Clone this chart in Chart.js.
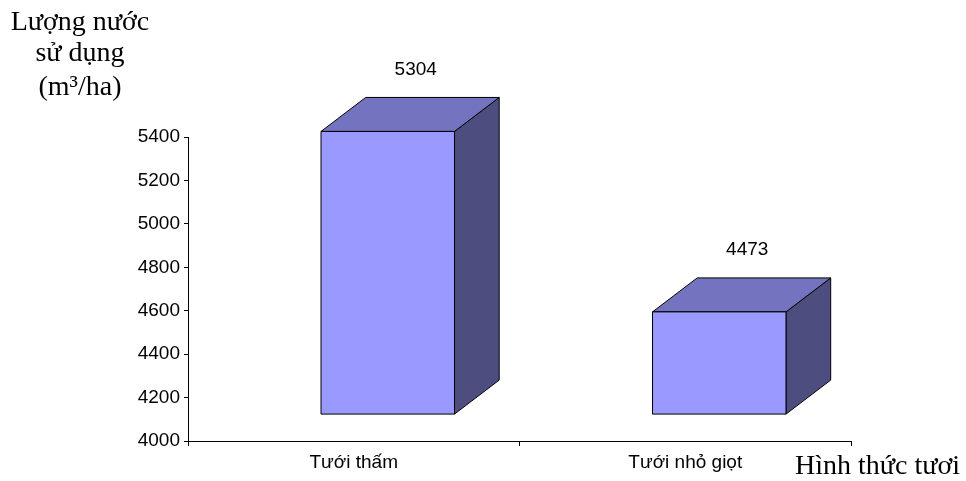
<!DOCTYPE html>
<html>
<head>
<meta charset="utf-8">
<script src="https://cdn.jsdelivr.net/npm/chart.js@4"></script>
<style>
  html, body { margin: 0; padding: 0; background: #fff; }
  #wrap { width: 966px; height: 481px; position: relative; }
</style>
</head>
<body>
<div id="wrap"><canvas id="chart"></canvas></div>
<script>
// datos
const categorias = ['Tưới thấm', 'Tưới nhỏ giọt'];
const luongNuoc  = [5304, 4473];
const yMin = 4000, yMax = 5400, yPaso = 200;
const tituloY = ['Lượng nước', 'sử dụng', '(m³/ha)'];
const tituloX = 'Hình thức tươi';

const SANS  = '"Liberation Sans", Arial, sans-serif';
const SERIF = '"Liberation Serif", "Times New Roman", serif';

// caja 3D estilo Excel
const caja3d = {
  id: 'caja3d',
  afterDatasetsDraw(chart) {
    const ctx = chart.ctx;
    const meta = chart.getDatasetMeta(0);
    const sx = 34, sy = 26.4;      // desplazamiento de la cara frontal
    const dx = 44.7, dy = 34;      // profundidad
    ctx.save();
    ctx.lineWidth = 1;
    ctx.strokeStyle = '#000';
    ctx.lineJoin = 'miter';
    meta.data.forEach((bar, i) => {
      const p = bar.getProps(['x', 'y', 'base', 'width'], true);
      const l = p.x - p.width / 2 + sx, r = p.x + p.width / 2 + sx;
      const t = p.y - sy, b = p.base - sy;
      // lado
      ctx.beginPath();
      ctx.moveTo(r, t); ctx.lineTo(r + dx, t - dy); ctx.lineTo(r + dx, b - dy); ctx.lineTo(r, b);
      ctx.closePath();
      ctx.fillStyle = '#4d4d80'; ctx.fill(); ctx.stroke();
      // tapa
      ctx.beginPath();
      ctx.moveTo(l, t); ctx.lineTo(l + dx, t - dy); ctx.lineTo(r + dx, t - dy); ctx.lineTo(r, t);
      ctx.closePath();
      ctx.fillStyle = '#7373bf'; ctx.fill(); ctx.stroke();
      // frente
      ctx.beginPath();
      ctx.rect(l, t, r - l, b - t);
      ctx.fillStyle = '#9999ff'; ctx.fill(); ctx.stroke();
      // etiqueta
      ctx.fillStyle = '#000';
      ctx.font = '19px ' + SANS;
      ctx.textAlign = 'center';
      ctx.textBaseline = 'middle';
      ctx.fillText(String(luongNuoc[i]), (l + r) / 2 + 28, t - 62);
    });
    ctx.restore();
  },
  afterDraw(chart) {
    const ctx = chart.ctx;
    ctx.save();
    ctx.fillStyle = '#000';
    ctx.font = '28px ' + SERIF;
    ctx.textAlign = 'center';
    ctx.textBaseline = 'alphabetic';
    const bases = [30, 61, 95];
    tituloY.forEach((s, i) => ctx.fillText(s, 80, bases[i]));
    ctx.font = '28px ' + SERIF;
    ctx.textAlign = 'right';
    ctx.fillText(tituloX, 960, 474);
    ctx.restore();
  }
};

new Chart(document.getElementById('chart'), {
  type: 'bar',
  data: {
    labels: categorias,
    datasets: [{
      data: luongNuoc,
      base: yMin,
      backgroundColor: 'rgba(0,0,0,0)',
      borderWidth: 0,
      categoryPercentage: 1,
      barPercentage: 0.4027
    }]
  },
  options: {
    responsive: true,
    maintainAspectRatio: false,
    animation: false,
    layout: { padding: { left: 128, right: 115, top: 137, bottom: 0 } },
    plugins: { legend: { display: false }, tooltip: { enabled: false } },
    scales: {
      x: {
        offset: true,
        afterFit: s => { s.height = 40; },
        border: { display: true, color: '#000', width: 1 },
        grid: { display: true, offset: true, drawOnChartArea: false, drawTicks: true, tickLength: 5, color: '#000' },
        ticks: { color: '#000', font: { size: 19, family: SANS }, padding: 5, maxRotation: 0 }
      },
      y: {
        min: yMin,
        max: yMax,
        afterFit: s => { s.width = 60; },
        border: { display: true, color: '#000', width: 1 },
        grid: { display: true, drawOnChartArea: false, drawTicks: true, tickLength: 4, color: '#000' },
        ticks: { stepSize: yPaso, color: '#000', font: { size: 19, family: SANS }, padding: 4,
                 callback: v => String(v) }
      }
    }
  },
  plugins: [caja3d]
});
</script>
</body>
</html>
